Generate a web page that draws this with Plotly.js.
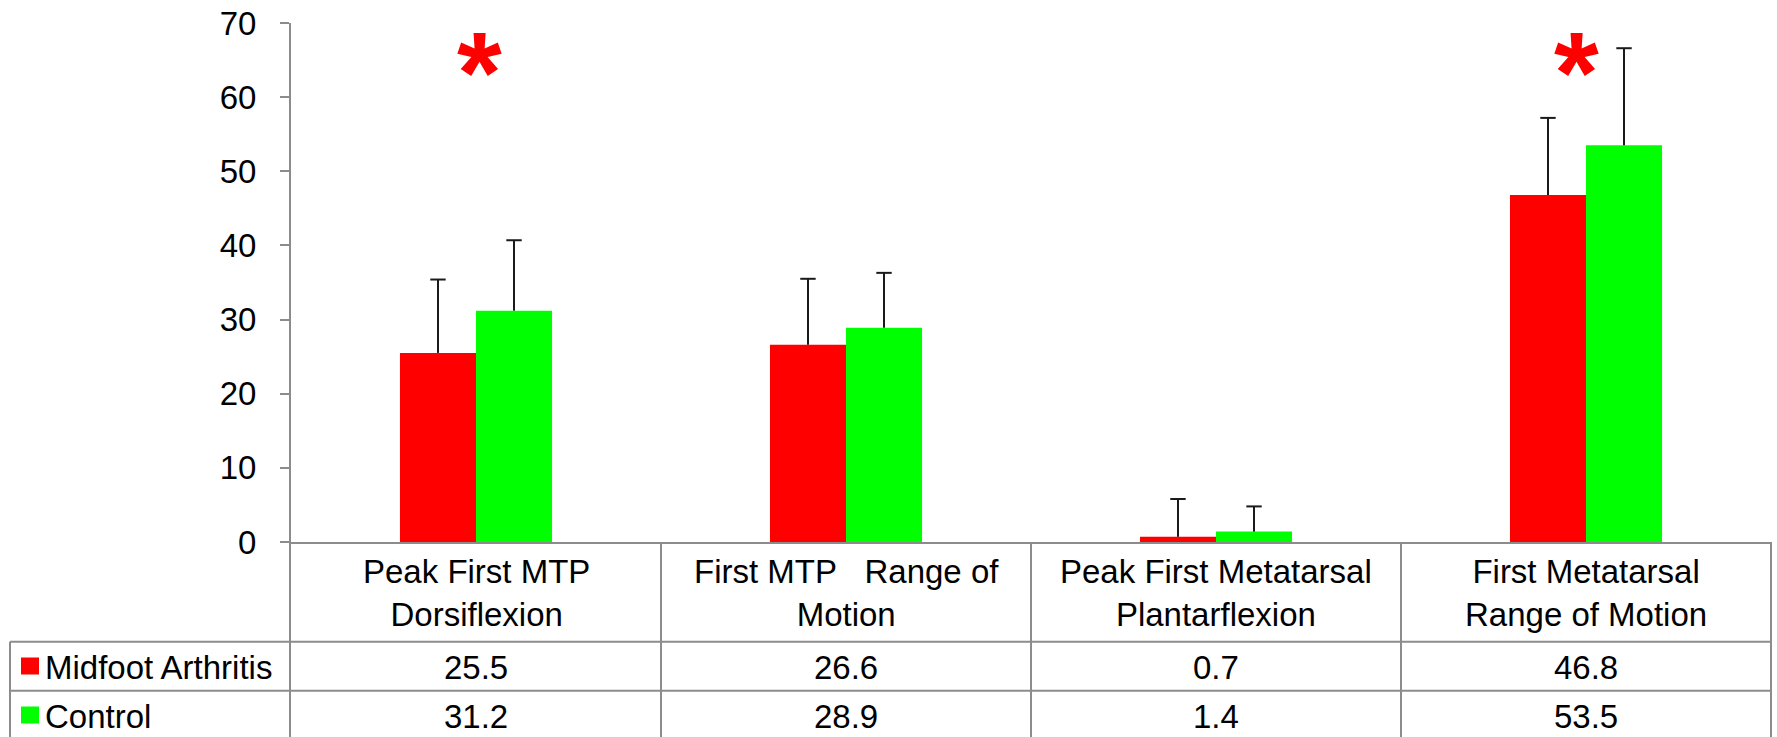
<!DOCTYPE html>
<html><head><meta charset="utf-8">
<script src="https://cdn.plot.ly/plotly-3.0.1.min.js"></script>
<style>html,body{margin:0;padding:0;background:#fff;}#chart{width:1777px;height:737px;}</style>
</head><body><div id="chart"></div>
<script>
// ---- data ----
const categories = ['Peak First MTP<br>Dorsiflexion', 'First MTP\u00a0\u00a0 Range of<br>Motion', 'Peak First Metatarsal<br>Plantarflexion', 'First Metatarsal<br>Range of Motion'];
const seriesNames = ['Midfoot Arthritis', 'Control'];
const midfoot = [25.5, 26.6, 0.7, 46.8];
const control = [31.2, 28.9, 1.4, 53.5];
const midfootSD = [9.9, 8.9, 5.1, 10.4];
const controlSD = [9.5, 7.4, 3.4, 13.1];
const significant = [true, false, false, true];
const yTicks = [0, 10, 20, 30, 40, 50, 60, 70];

// ---- styling / layout constants ----
const colors = ['#FF0000', '#00FF00'];
const W = 1777, H = 737, L = 291, R = 6, T = 23, B = 195;
const pw = W - L - R, ph = H - T - B;
const gridColor = '#8c8c8c';
const FONT = 'Arial, "Liberation Sans", sans-serif';
const FS = 33;
const bargap = 0.589;
const barW = (1 - bargap) / 2;
const px2x = px => (px - L) / pw;
const py2y = py => (H - B - py) / ph;

const idx = categories.map((_, i) => i);
const series = [midfoot, control];
const sds = [midfootSD, controlSD];

const traces = [];
series.forEach((vals, s) => {
  traces.push({
    type: 'bar', x: idx, y: vals, name: seriesNames[s],
    marker: {color: colors[s], line: {width: 0}},
    hoverinfo: 'y'
  });
});
// error bars (upper only) drawn as stems + caps
series.forEach((vals, s) => {
  const off = (s === 0 ? -1 : 1) * barW / 2;
  const sx = [], sy = [], cx = [], cy = [];
  vals.forEach((v, i) => {
    sx.push(i + off, i + off, null);
    sy.push(v, v + sds[s][i], null);
    cx.push(i + off); cy.push(v + sds[s][i]);
  });
  traces.push({type: 'scatter', mode: 'lines', x: sx, y: sy, line: {color: '#1a1a1a', width: 2}, hoverinfo: 'skip', showlegend: false});
  traces.push({type: 'scatter', mode: 'markers', x: cx, y: cy, marker: {symbol: 'line-ew', size: 11, line: {color: '#1a1a1a', width: 2}}, hoverinfo: 'skip', showlegend: false});
});

const lineStyle = {color: gridColor, width: 2};
const shapes = [];
const tableBottom = 760;
[641.7, 690.7].forEach(py => shapes.push({type: 'line', xref: 'paper', yref: 'paper', x0: px2x(10), x1: 1, y0: py2y(py), y1: py2y(py), line: lineStyle}));
shapes.push({type: 'line', xref: 'paper', yref: 'paper', x0: px2x(10), x1: px2x(10), y0: py2y(641.7), y1: py2y(tableBottom), line: lineStyle});
for (let i = 0; i <= categories.length; i++) {
  const xp = i === 0 ? px2x(290) : i / categories.length;
  shapes.push({type: 'line', xref: 'paper', yref: 'paper', x0: xp, x1: xp, y0: 0, y1: py2y(tableBottom), line: lineStyle});
}
// legend keys in table
const rowCenters = [666, 715];
rowCenters.forEach((pc, s) => shapes.push({type: 'rect', xref: 'paper', yref: 'paper', x0: px2x(21), x1: px2x(39), y0: py2y(pc - 8.5), y1: py2y(pc + 8.5), fillcolor: colors[s], line: {width: 0}}));

const annotations = [];
categories.forEach((c, i) => {
  annotations.push({xref: 'x', yref: 'paper', x: i, y: py2y(593), text: c, showarrow: false, xanchor: 'center', yanchor: 'middle', font: {family: FONT, size: FS, color: '#000'}});
  series.forEach((vals, s) => annotations.push({xref: 'x', yref: 'paper', x: i, y: py2y(rowCenters[s] + 1), text: vals[i].toFixed(1), showarrow: false, xanchor: 'center', yanchor: 'middle', font: {family: FONT, size: FS, color: '#000'}}));
  if (significant[i]) annotations.push({xref: 'x', yref: 'y', x: i, y: 63.4, xshift: i === 0 ? 3 : -10, text: '<b>*</b>', showarrow: false, xanchor: 'center', yanchor: 'middle', font: {family: FONT, size: 115, color: '#FF0000'}});
});
seriesNames.forEach((n, s) => annotations.push({xref: 'paper', yref: 'paper', x: px2x(43), y: py2y(rowCenters[s] + 1), text: n, showarrow: false, xanchor: 'left', yanchor: 'middle', font: {family: FONT, size: FS, color: '#000'}}));

const layout = {
  width: W, height: H,
  margin: {l: L, r: R, t: T, b: B, pad: 0},
  paper_bgcolor: '#fff', plot_bgcolor: '#fff',
  barmode: 'group', bargap: bargap, bargroupgap: 0,
  showlegend: false,
  font: {family: FONT, size: FS, color: '#000'},
  xaxis: {range: [-0.5, categories.length - 0.5], showticklabels: false, ticks: '', showline: true, linecolor: gridColor, linewidth: 2, showgrid: false, zeroline: false},
  yaxis: {range: [0, 70], tickvals: yTicks, ticktext: yTicks.map(String), ticks: 'outside', ticklen: 9, tickwidth: 2, tickcolor: gridColor, showline: true, linecolor: gridColor, linewidth: 2, showgrid: false, zeroline: false, tickfont: {family: FONT, size: FS, color: '#000'}, ticklabelstandoff: 17},
  shapes: shapes, annotations: annotations
};
Plotly.newPlot('chart', traces, layout, {displayModeBar: false, staticPlot: true});
</script>
</body></html>
